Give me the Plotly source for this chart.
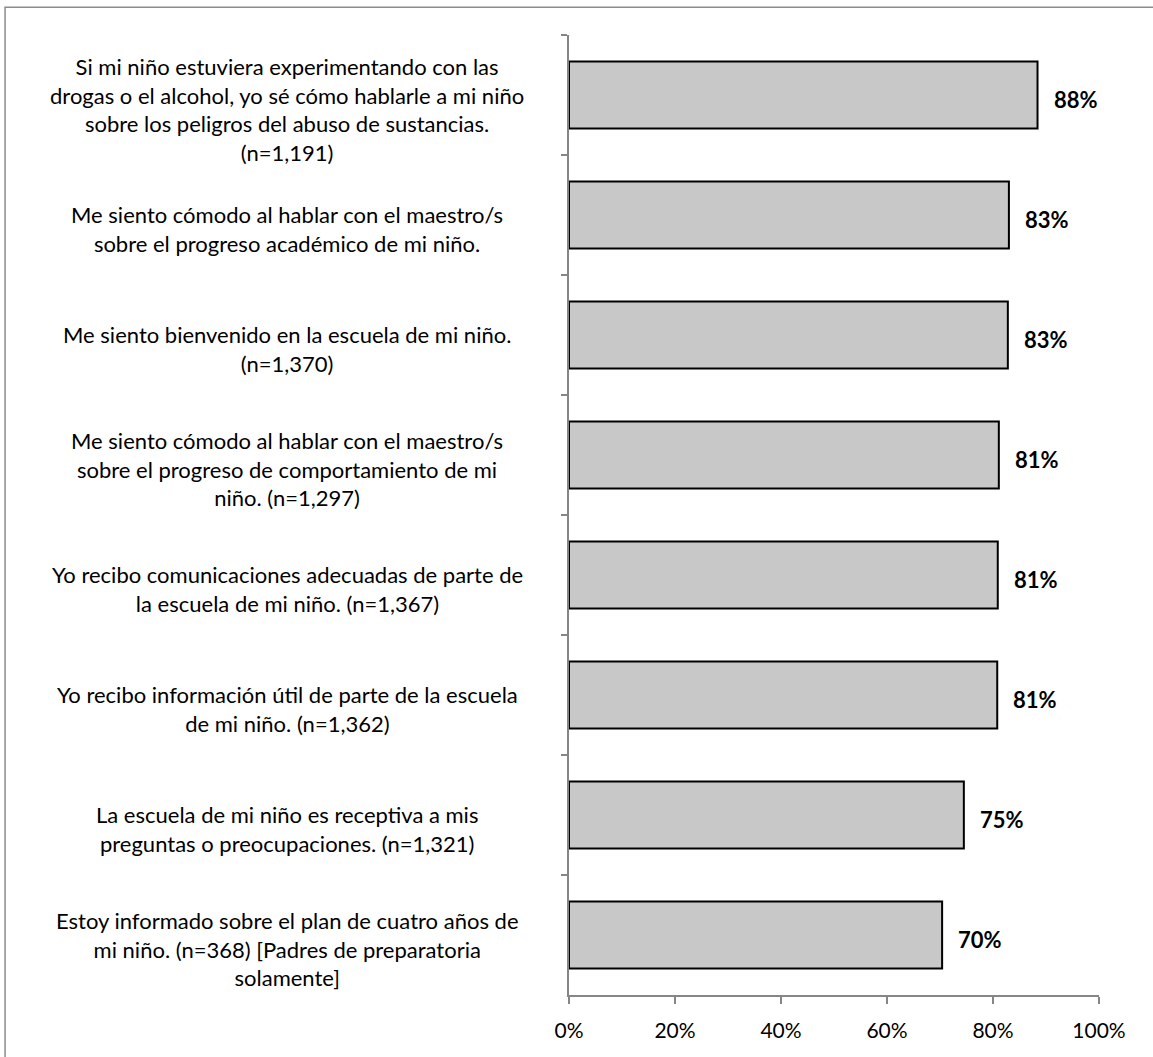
import plotly.graph_objects as go

categories = [
    "Si mi niño estuviera experimentando con las<br>drogas o el alcohol, yo sé cómo hablarle a mi niño<br>sobre los peligros del abuso de sustancias.<br>(n=1,191)",
    "Me siento cómodo al hablar con el maestro/s<br>sobre el progreso académico de mi niño.",
    "Me siento bienvenido en la escuela de mi niño.<br>(n=1,370)",
    "Me siento cómodo al hablar con el maestro/s<br>sobre el progreso de comportamiento de mi<br>niño. (n=1,297)",
    "Yo recibo comunicaciones adecuadas de parte de<br>la escuela de mi niño. (n=1,367)",
    "Yo recibo información útil de parte de la escuela<br>de mi niño. (n=1,362)",
    "La escuela de mi niño es receptiva a mis<br>preguntas o preocupaciones. (n=1,321)",
    "Estoy informado sobre el plan de cuatro años de<br>mi niño. (n=368) [Padres de preparatoria<br>solamente]",
]
values = [88.4, 83.0, 82.8, 81.1, 80.9, 80.8, 74.5, 70.4]
value_labels = ["88%", "83%", "83%", "81%", "81%", "81%", "75%", "70%"]
x_ticks = [0, 20, 40, 60, 80, 100]
x_tick_text = ["0%", "20%", "40%", "60%", "80%", "100%"]

FONT = "Lato, 'Open Sans', sans-serif"

fig = go.Figure(go.Bar(
    x=values, y=categories, orientation="h",
    width=0.56,
    marker=dict(color="#C8C8C8", line=dict(color="#000000", width=2)),
    hoverinfo="skip",
))

for cat, v, lab in zip(categories, values, value_labels):
    fig.add_annotation(x=v, y=cat, xref="x", yref="y", text=f"<b>{lab}</b>",
                       showarrow=False, xanchor="left", xshift=14, yshift=-4,
                       font=dict(family=FONT, size=22, color="#000000"))
    fig.add_annotation(x=-0.532, y=cat, xref="paper", yref="y", text=cat,
                       showarrow=False, xanchor="center", align="center",
                       yshift=-14,
                       font=dict(family=FONT, size=22, color="#000000"))

fig.add_shape(type="rect", xref="paper", yref="paper",
              x0=-1.064, x1=1.3, y0=-0.2, y1=1.029,
              line=dict(color="#8C8C8C", width=1.5), fillcolor="rgba(0,0,0,0)",
              layer="below")

fig.update_layout(
    width=1153, height=1057,
    margin=dict(l=569, r=54, t=35, b=62),
    paper_bgcolor="white", plot_bgcolor="white",
    showlegend=False,
    font=dict(family=FONT, size=20, color="#000000"),
)
fig.update_xaxes(range=[0, 100], tickmode="array", tickvals=x_ticks, ticktext=x_tick_text,
                 showgrid=False, zeroline=False, showline=True,
                 linecolor="#868686", linewidth=1.5,
                 ticks="outside", ticklen=7, tickcolor="#868686", tickwidth=1.5,
                 ticklabelstandoff=9,
                 tickfont=dict(family=FONT, size=21, color="#000000"))
fig.update_yaxes(type="category", categoryorder="array", categoryarray=categories,
                 range=[len(categories) - 0.5, -0.5], autorange=False,
                 showticklabels=False,
                 showgrid=False, zeroline=False, showline=True,
                 linecolor="#868686", linewidth=1.5,
                 ticks="outside", ticklen=6, tickcolor="#868686", tickwidth=1.5,
                 tickson="boundaries")

fig.write_html("out.html", config={"displayModeBar": False},
               post_script="document.body.style.margin='0';document.body.style.overflow='hidden';")
